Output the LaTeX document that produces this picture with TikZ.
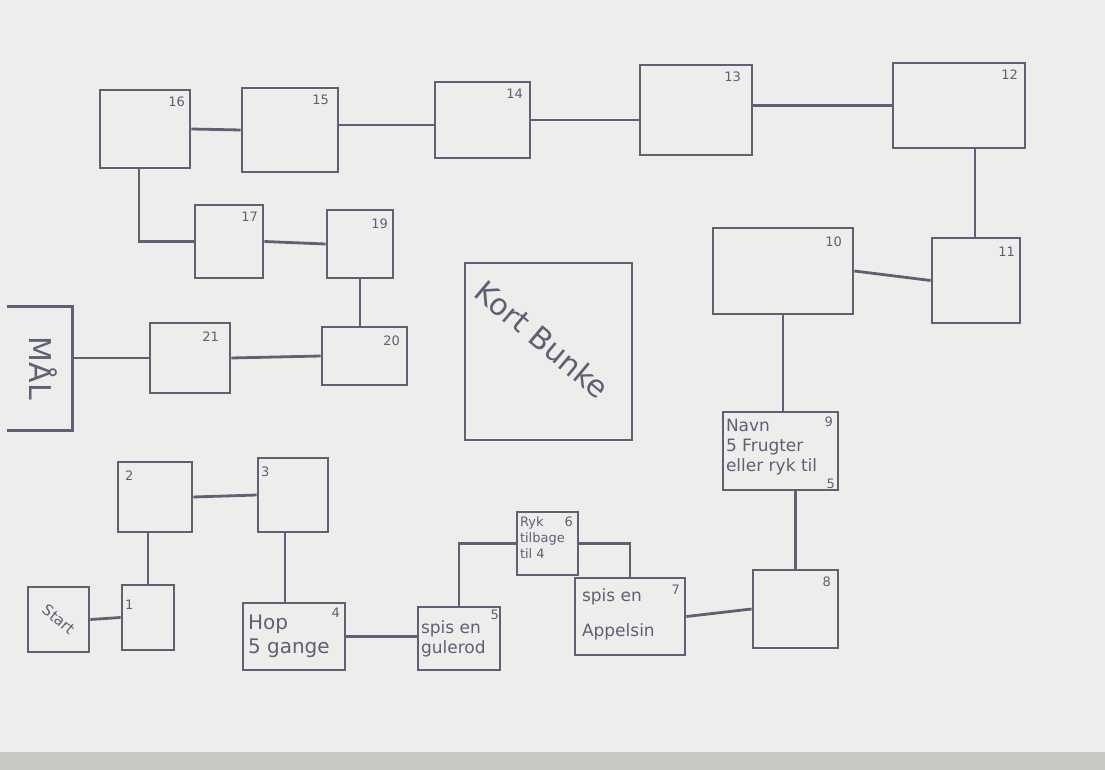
\documentclass[tikz,border=0pt]{standalone}
\usepackage{fontspec}
\setmainfont{DejaVu Sans}
\definecolor{ink}{HTML}{5E6073}
\definecolor{paper}{HTML}{EDEEEC}
\definecolor{table}{HTML}{C9C9C3}
\begin{document}
\begin{tikzpicture}[x=0.5pt,y=-0.5pt,
  box/.style={draw=ink, line width=1.4pt, inner sep=0pt, minimum width=#1},
  box/.default=40pt,
  conn/.style={draw=ink, line width=1.4pt},
  numlbl/.style={text=ink, font=\fontsize{6.5}{7}\selectfont, inner sep=0pt, anchor=north east},
  txt/.style={text=ink, font=\fontsize{8.5}{10}\selectfont, inner sep=0pt, align=left},
]
% background paper
\fill[paper] (0,0) rectangle (1105,770);
\fill[table] (0,752) rectangle (1105,770);
\useasboundingbox (0,0) rectangle (1105,770);

% top row
\node[box=45pt, minimum height=39pt] (n16) at (145,129) {};
\node[box=48pt, minimum height=42pt] (n15) at (290,130) {};
\node[box=47.5pt, minimum height=38pt] (n14) at (482.5,120) {};
\node[box=56pt, minimum height=45pt] (n13) at (696,110) {};
\node[box=66pt, minimum height=42.5pt] (n12) at (959,105.5) {};
% right column
\node[box=44pt, minimum height=42.5pt] (n11) at (976,280.5) {};
\node[box=70pt, minimum height=43pt] (n10) at (783,271) {};
\node[box=57.5pt, minimum height=39pt] (n9) at (780.5,451) {};
\node[box=42.5pt, minimum height=39pt] (n8) at (795.5,609) {};
% bottom row
\node[box=55pt, minimum height=38.5pt] (n7) at (630,616.5) {};
\node[box=30.5pt, minimum height=31.5pt] (n6) at (547.5,543.5) {};
\node[box=41pt, minimum height=31.5pt] (n5) at (459,638.5) {};
\node[box=51pt, minimum height=33.5pt] (n4) at (294,636.5) {};
\node[box=35pt, minimum height=37pt] (n3) at (293,495) {};
\node[box=37pt, minimum height=35pt] (n2) at (155,497) {};
\node[box=26pt, minimum height=32.5pt] (n1) at (148,617.5) {};
\node[box=30.5pt, minimum height=32.5pt] (start) at (58.5,619.5) {};
% left middle
\node[box=34pt, minimum height=36.5pt] (n17) at (229,241.5) {};
\node[box=33pt, minimum height=34pt] (n19) at (360,244) {};
\node[box=42.5pt, minimum height=29pt] (n20) at (364.5,356) {};
\node[box=40pt, minimum height=35pt] (n21) at (190,358) {};
% goal (open on the left)
\node[inner sep=0pt, minimum width=32.5pt, minimum height=61.5pt] (mal) at (39.5,368.5) {};
\draw[conn] (mal.north west) -- (mal.north east) -- (mal.south east) -- (mal.south west);
% card pile
\node[box=83.5pt, minimum height=88.5pt] (kort) at (548.5,351.5) {};

% numbers
\node[numlbl] (l16) at ([xshift=-3pt,yshift=-4pt]n16.north east) {16};
\node[numlbl] (l15) at ([xshift=-5pt,yshift=-4pt]n15.north east) {15};
\node[numlbl] (l14) at ([xshift=-4pt,yshift=-4pt]n14.north east) {14};
\node[numlbl] (l13) at ([xshift=-6pt,yshift=-4pt]n13.north east) {13};
\node[numlbl] (l12) at ([xshift=-4pt,yshift=-4pt]n12.north east) {12};
\node[numlbl] (l11) at ([xshift=-3pt,yshift=-5pt]n11.north east) {11};
\node[numlbl] (l10) at ([xshift=-6pt,yshift=-5pt]n10.north east) {10};
\node[numlbl] (l9) at ([xshift=-3pt,yshift=-3pt]n9.north east) {9};
\node[numlbl] (l8) at ([xshift=-4pt,yshift=-4pt]n8.north east) {8};
\node[numlbl] (l7) at ([xshift=-3pt,yshift=-4pt]n7.north east) {7};
\node[numlbl] (l6) at ([xshift=-3pt,yshift=-3pt]n6.north east) {6};
\node[numlbl] (l5) at ([xshift=-1pt,yshift=-2pt]n5.north east) {5};
\node[numlbl] (l4) at ([xshift=-3pt,yshift=-3pt]n4.north east) {4};
\node[numlbl, anchor=north west] (l3) at ([xshift=2pt,yshift=-5pt]n3.north west) {3};
\node[numlbl, anchor=north west] (l2) at ([xshift=4pt,yshift=-5pt]n2.north west) {2};
\node[numlbl, anchor=north west] (l1) at ([xshift=2pt,yshift=-8pt]n1.north west) {1};
\node[numlbl] (l17) at ([xshift=-3pt,yshift=-4pt]n17.north east) {17};
\node[numlbl] (l19) at ([xshift=-3pt,yshift=-5pt]n19.north east) {19};
\node[numlbl] (l20) at ([xshift=-4pt,yshift=-5pt]n20.north east) {20};
\node[numlbl] (l21) at ([xshift=-6pt,yshift=-5pt]n21.north east) {21};

% texts
\node[txt, anchor=north west] (t9) at ([xshift=2pt,yshift=-4pt]n9.north west) {Navn\\5 Frugter\\eller ryk til};
\node[txt, anchor=south east, font=\fontsize{6.5}{7}\selectfont] (t9b) at ([xshift=-2pt,yshift=1pt]n9.south east) {5};
\node[txt, anchor=north west, font=\fontsize{6.5}{8}\selectfont] (t6) at ([xshift=2pt,yshift=-3pt]n6.north west) {Ryk\\tilbage\\til 4};
\node[txt, anchor=north west] (t7a) at ([xshift=4pt,yshift=-6pt]n7.north west) {spis en};
\node[txt, anchor=south west] (t7b) at ([xshift=4pt,yshift=8pt]n7.south west) {Appelsin};
\node[txt, anchor=west] (t5) at ([xshift=2pt]n5.west) {spis en\\gulerod};
\node[txt, anchor=west, font=\fontsize{10}{12}\selectfont] (t4) at ([xshift=3pt]n4.west) {Hop\\5 gange};
\node[txt, rotate=-40, font=\fontsize{7.5}{8}\selectfont] (tstart) at (start) {Start};
\node[txt, rotate=-90, font=\fontsize{15}{16}\selectfont] (tmal) at ([xshift=2pt]mal) {MÅL};
\node[txt, rotate=-40, font=\fontsize{15}{16}\selectfont] (tkort) at ([xshift=-3pt,yshift=6pt]kort) {Kort Bunke};

% connectors
\draw[conn] (n16.east) -- (n15.west);
\draw[conn] ([yshift=2.5pt]n15.east) -- ([yshift=2.5pt]n15.east -| n14.west);
\draw[conn] (n14.east) -- (n14.east -| n13.west);
\draw[conn] (n12.west -| n13.east) -- (n12.west);
\draw[conn] ([xshift=8pt]n12.south) -- ([xshift=8pt]n12.south |- n11.north);
\draw[conn] (n10.east) -- (n11.west);
\draw[conn] (n10.south) -- (n10.south |- n9.north);
\draw[conn] (n8.north) -- (n8.north |- n9.south);
\draw[conn] (n7.east) -- (n8.west);
\draw[conn] (n6.east) -| (n7.north);
\draw[conn] (n6.west) -| (n5.north);
\draw[conn] (n4.east) -- (n4.east -| n5.west);
\draw[conn] ([xshift=-4pt]n3.south) -- ([xshift=-4pt]n3.south |- n4.north);
\draw[conn] (n2.east) -- (n3.west);
\draw[conn] (n1.north) -- (n1.north |- n2.south);
\draw[conn] (start.east) -- (n1.west);
\draw[conn] ([xshift=-3pt]n16.south) |- (n17.west);
\draw[conn] (n17.east) -- (n19.west);
\draw[conn] (n19.south) -- (n19.south |- n20.north);
\draw[conn] (n20.west) -- (n21.east);
\draw[conn] (n21.west) -- (n21.west -| mal.east);
\end{tikzpicture}
\end{document}
